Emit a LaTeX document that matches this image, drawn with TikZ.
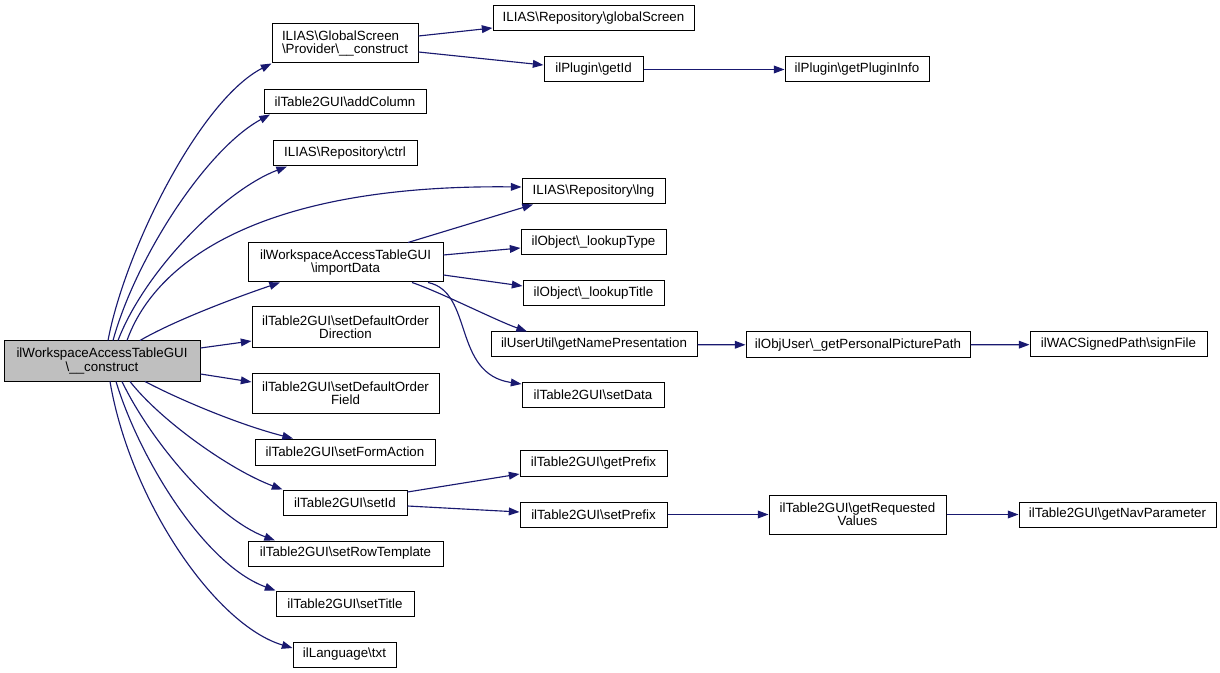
\documentclass[tikz,border=0pt]{standalone}
\usepackage{fontspec}
\setmainfont{Liberation Sans}
\usetikzlibrary{arrows.meta}
\definecolor{edgeblue}{HTML}{191970}
\definecolor{mainfill}{HTML}{BFBFBF}
\tikzset{
  box/.style={draw=black, line width=0.75pt, fill=white, inner sep=0pt, align=center,
    font=\fontsize{10}{10}\selectfont},
  sz/.style 2 args={minimum width=#1*0.75pt, minimum height=#2*0.75pt},
  edge/.style={draw=edgeblue, line width=0.85pt, -{Triangle[length=8pt,width=5.8pt]}},
}
\begin{document}
\begin{tikzpicture}[x=0.75pt, y=-0.75pt]
\useasboundingbox[fill=white] (0,0) rectangle (1220,673);
% nodes
\node[box, sz={196}{40}, fill=mainfill] (main) at (102,361) {ilWorkspaceAccessTableGUI\\\textbackslash\_\_construct};
\node[box, sz={146}{39}, align=left] (gsp) at (345,43.5) {ILIAS\textbackslash GlobalScreen\\\textbackslash Provider\textbackslash\_\_construct};
\node[box, sz={162}{24}] (addColumn) at (345,102) {ilTable2GUI\textbackslash addColumn};
\node[box, sz={144}{25}] (ctrl) at (345,153.5) {ILIAS\textbackslash Repository\textbackslash ctrl};
\node[box, sz={195}{39}] (importData) at (345.5,262.5) {ilWorkspaceAccessTableGUI\\\textbackslash importData};
\node[box, sz={187}{41}] (sdoDir) at (345.5,327.5) {ilTable2GUI\textbackslash setDefaultOrder\\Direction};
\node[box, sz={187}{40}] (sdoField) at (345.5,393) {ilTable2GUI\textbackslash setDefaultOrder\\Field};
\node[box, sz={180}{26}] (setFormAction) at (345,452) {ilTable2GUI\textbackslash setFormAction};
\node[box, sz={124}{25}] (setId) at (345,502.5) {ilTable2GUI\textbackslash setId};
\node[box, sz={195}{25}] (setRowTemplate) at (345.5,553.5) {ilTable2GUI\textbackslash setRowTemplate};
\node[box, sz={138}{25}] (setTitle) at (345,603.5) {ilTable2GUI\textbackslash setTitle};
\node[box, sz={103}{25}] (txt) at (344.5,654.5) {ilLanguage\textbackslash txt};
\node[box, sz={201}{25}] (globalScreen) at (593.5,18.5) {ILIAS\textbackslash Repository\textbackslash globalScreen};
\node[box, sz={99}{25}] (getId) at (593.5,69.5) {ilPlugin\textbackslash getId};
\node[box, sz={144}{25}] (getPluginInfo) at (857,69.5) {ilPlugin\textbackslash getPluginInfo};
\node[box, sz={143}{25}] (lng) at (593.5,191.5) {ILIAS\textbackslash Repository\textbackslash lng};
\node[box, sz={145}{25}] (lookupType) at (593.5,242.5) {ilObject\textbackslash\_lookupType};
\node[box, sz={141}{25}] (lookupTitle) at (593.5,293.5) {ilObject\textbackslash\_lookupTitle};
\node[box, sz={206}{25}] (getNamePresentation) at (594,344.5) {ilUserUtil\textbackslash getNamePresentation};
\node[box, sz={142}{25}] (setData) at (593,394.5) {ilTable2GUI\textbackslash setData};
\node[box, sz={147}{26}] (getPrefix) at (593.5,463) {ilTable2GUI\textbackslash getPrefix};
\node[box, sz={147}{25}] (setPrefix) at (593.5,514.5) {ilTable2GUI\textbackslash setPrefix};
\node[box, sz={224}{26}] (getPersonalPicturePath) at (858,345) {ilObjUser\textbackslash\_getPersonalPicturePath};
\node[box, sz={177}{25}] (signFile) at (1118.5,344.5) {ilWACSignedPath\textbackslash signFile};
\node[box, sz={177}{39}] (getRequestedValues) at (857.5,514.5) {ilTable2GUI\textbackslash getRequested\\Values};
\node[box, sz={197}{25}] (getNavParameter) at (1117.5,514.5) {ilTable2GUI\textbackslash getNavParameter};
% edges from main
\draw[edge] (main.north -| 108,0) .. controls (125,250) and (200,100) .. (gsp.south west);
\draw[edge] (main.north -| 113,0) .. controls (135,260) and (205,150) .. (addColumn.south -| 270,0);
\draw[edge] (main.north -| 118,0) .. controls (145,270) and (225,190) .. (ctrl.south -| 287,0);
\draw[edge] (main.north -| 127,0) .. controls (155,262) and (260,184) .. (lng.west |- 0,187);
\draw[edge] (main.north -| 140,0) .. controls (175,320) and (240,296) .. (importData.south -| 280,0);
\draw[edge] (main.east |- 0,348) -- (sdoDir.west |- 0,341);
\draw[edge] (main.east |- 0,374) -- (sdoField.west |- 0,382);
\draw[edge] (main.south -| 145,0) .. controls (180,400) and (240,425) .. (setFormAction.north -| 293,0);
\draw[edge] (main.south -| 130,0) .. controls (160,420) and (230,470) .. (setId.north west);
\draw[edge] (main.south -| 122,0) .. controls (150,440) and (215,518) .. (setRowTemplate.north -| 275,0);
\draw[edge] (main.south -| 116,0) .. controls (140,460) and (205,565) .. (setTitle.north west);
\draw[edge] (main.south -| 110,0) .. controls (130,500) and (215,625) .. (txt.west |- 0,648);
% second level
\draw[edge] (gsp.east |- 0,36) -- (globalScreen.west |- 0,28);
\draw[edge] (gsp.east |- 0,52) -- (getId.west |- 0,65);
\draw[edge] (getId) -- (getPluginInfo);
\draw[edge] (importData.north -| 408,0) -- (lng.south -| 533,0);
\draw[edge] (importData.east |- 0,255) -- (lookupType.west |- 0,248);
\draw[edge] (importData.east |- 0,275) -- (lookupTitle.west |- 0,286);
\draw[edge] (importData.south -| 412,0) .. controls (440,292) and (495,320) .. (getNamePresentation.north -| 527,0);
\draw[edge] (importData.south -| 428,0) .. controls (474,292) and (452,374) .. (setData.west |- 0,384);
\draw[edge] (getNamePresentation) -- (getPersonalPicturePath);
\draw[edge] (getPersonalPicturePath) -- (signFile);
\draw[edge] (setId.east |- 0,492) -- (getPrefix.west |- 0,474);
\draw[edge] (setId.east |- 0,506) -- (setPrefix.west |- 0,512);
\draw[edge] (setPrefix) -- (getRequestedValues);
\draw[edge] (getRequestedValues) -- (getNavParameter);
\end{tikzpicture}
\end{document}
